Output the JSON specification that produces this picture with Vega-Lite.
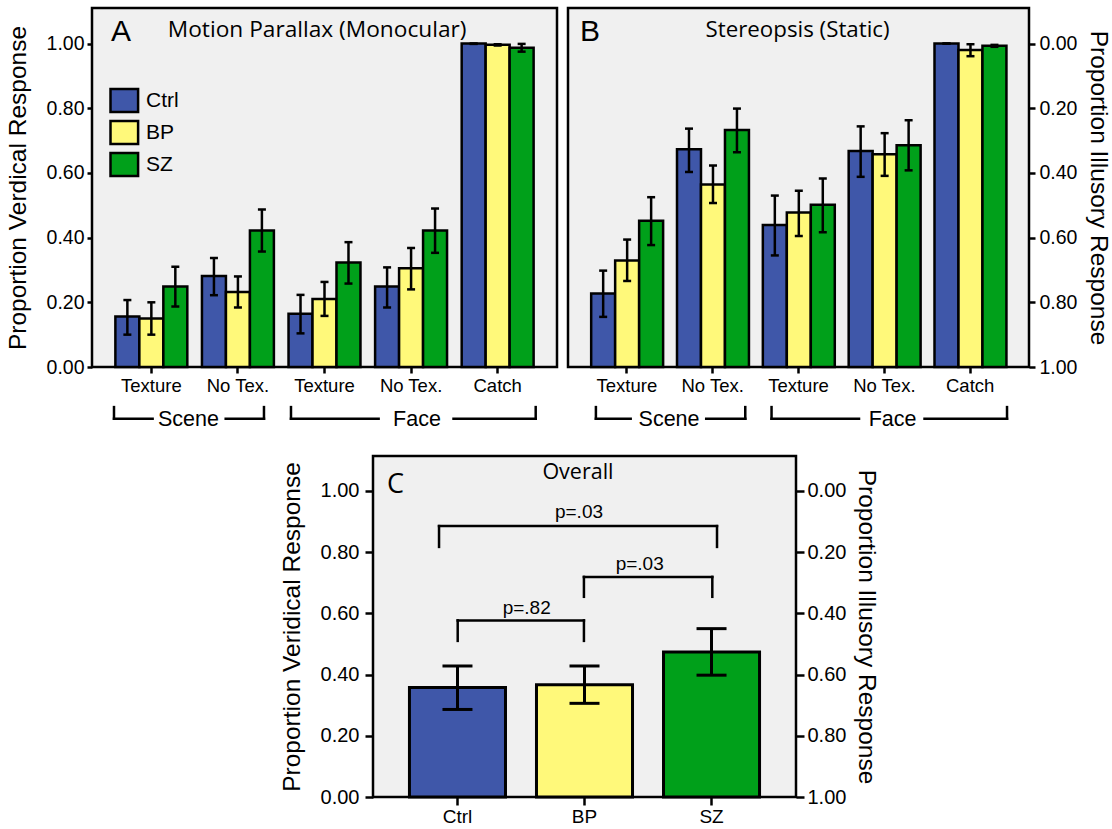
{
"$schema": "https://vega.github.io/schema/vega-lite/v6.json",
"padding": {"left": 3, "top": 6, "right": 5, "bottom": 4},
"background": "white",
"spacing": 22,
"config": {
  "font": "Liberation Sans",
  "view": {"stroke": "black", "strokeWidth": 2.5, "fill": "#f0f0f0"},
  "axis": {"labelFont": "Liberation Sans", "labelColor": "black", "tickColor": "black", "tickWidth": 2.5, "domain": false, "grid": false, "titleFont": "Liberation Sans", "titleColor": "black", "titleFontWeight": "normal"},
  "legend": {"labelFont": "Liberation Sans", "labelColor": "black"}
},
"datasets": {
  "A": [
    {"cond":"Scene|Texture","group":"Ctrl","v":0.156,"lo":0.100,"hi":0.207},
    {"cond":"Scene|Texture","group":"BP","v":0.150,"lo":0.100,"hi":0.200},
    {"cond":"Scene|Texture","group":"SZ","v":0.249,"lo":0.187,"hi":0.310},
    {"cond":"Scene|No Tex.","group":"Ctrl","v":0.281,"lo":0.222,"hi":0.337},
    {"cond":"Scene|No Tex.","group":"BP","v":0.232,"lo":0.184,"hi":0.280},
    {"cond":"Scene|No Tex.","group":"SZ","v":0.422,"lo":0.357,"hi":0.487},
    {"cond":"Face|Texture","group":"Ctrl","v":0.165,"lo":0.104,"hi":0.223},
    {"cond":"Face|Texture","group":"BP","v":0.210,"lo":0.158,"hi":0.263},
    {"cond":"Face|Texture","group":"SZ","v":0.323,"lo":0.258,"hi":0.386},
    {"cond":"Face|No Tex.","group":"Ctrl","v":0.249,"lo":0.184,"hi":0.308},
    {"cond":"Face|No Tex.","group":"BP","v":0.305,"lo":0.240,"hi":0.368},
    {"cond":"Face|No Tex.","group":"SZ","v":0.422,"lo":0.353,"hi":0.490},
    {"cond":"Catch|Catch","group":"Ctrl","v":1.000,"lo":0.999,"hi":1.000},
    {"cond":"Catch|Catch","group":"BP","v":0.996,"lo":0.994,"hi":0.998},
    {"cond":"Catch|Catch","group":"SZ","v":0.987,"lo":0.975,"hi":0.999}
  ],
  "B": [
    {"cond":"Scene|Texture","group":"Ctrl","v":0.227,"lo":0.155,"hi":0.298},
    {"cond":"Scene|Texture","group":"BP","v":0.329,"lo":0.266,"hi":0.394},
    {"cond":"Scene|Texture","group":"SZ","v":0.452,"lo":0.377,"hi":0.525},
    {"cond":"Scene|No Tex.","group":"Ctrl","v":0.673,"lo":0.603,"hi":0.737},
    {"cond":"Scene|No Tex.","group":"BP","v":0.564,"lo":0.507,"hi":0.623},
    {"cond":"Scene|No Tex.","group":"SZ","v":0.733,"lo":0.664,"hi":0.799},
    {"cond":"Face|Texture","group":"Ctrl","v":0.439,"lo":0.345,"hi":0.530},
    {"cond":"Face|Texture","group":"BP","v":0.478,"lo":0.405,"hi":0.545},
    {"cond":"Face|Texture","group":"SZ","v":0.502,"lo":0.417,"hi":0.583},
    {"cond":"Face|No Tex.","group":"Ctrl","v":0.668,"lo":0.588,"hi":0.744},
    {"cond":"Face|No Tex.","group":"BP","v":0.658,"lo":0.591,"hi":0.723},
    {"cond":"Face|No Tex.","group":"SZ","v":0.686,"lo":0.608,"hi":0.763},
    {"cond":"Catch|Catch","group":"Ctrl","v":1.000,"lo":1.000,"hi":1.000},
    {"cond":"Catch|Catch","group":"BP","v":0.980,"lo":0.961,"hi":0.998},
    {"cond":"Catch|Catch","group":"SZ","v":0.993,"lo":0.990,"hi":0.996}
  ],
  "C": [
    {"group":"Ctrl","v":0.358,"lo":0.286,"hi":0.428},
    {"group":"BP","v":0.367,"lo":0.306,"hi":0.428},
    {"group":"SZ","v":0.474,"lo":0.398,"hi":0.550}
  ],
  "segA": [
    {"x":0.254,"x2":0.254,"y":-0.124,"y2":-0.16},
    {"x":0.254,"x2":0.70,"y":-0.16,"y2":-0.16},
    {"x":1.544,"x2":1.986,"y":-0.16,"y2":-0.16},
    {"x":1.986,"x2":1.986,"y":-0.16,"y2":-0.124},
    {"x":2.298,"x2":2.298,"y":-0.124,"y2":-0.16},
    {"x":2.298,"x2":3.31,"y":-0.16,"y2":-0.16},
    {"x":4.175,"x2":5.124,"y":-0.16,"y2":-0.16},
    {"x":5.124,"x2":5.124,"y":-0.16,"y2":-0.124}
  ],
  "txtA": [
    {"k":"grp","x":1.114,"y":-0.182,"t":"Scene"},
    {"k":"grp","x":3.753,"y":-0.182,"t":"Face"},
    {"k":"letter","x":0.22,"y":1.008,"t":"A"},
    {"k":"title","x":2.6,"y":1.02,"t":"Motion Parallax (Monocular)"}
  ],
  "segB": [
    {"x":0.325,"x2":0.325,"y":-0.124,"y2":-0.16},
    {"x":0.325,"x2":0.73,"y":-0.16,"y2":-0.16},
    {"x":1.61,"x2":2.065,"y":-0.16,"y2":-0.16},
    {"x":2.065,"x2":2.065,"y":-0.16,"y2":-0.124},
    {"x":2.371,"x2":2.371,"y":-0.124,"y2":-0.16},
    {"x":2.371,"x2":3.39,"y":-0.16,"y2":-0.16},
    {"x":4.153,"x2":5.114,"y":-0.16,"y2":-0.16},
    {"x":5.114,"x2":5.114,"y":-0.16,"y2":-0.124}
  ],
  "txtB": [
    {"k":"grp","x":1.177,"y":-0.182,"t":"Scene"},
    {"k":"grp","x":3.781,"y":-0.182,"t":"Face"},
    {"k":"letter","x":0.14,"y":1.008,"t":"B"},
    {"k":"title","x":2.674,"y":1.02,"t":"Stereopsis (Static)"}
  ],
  "segC": [
    {"x":0.667,"x2":0.667,"y":0.51,"y2":0.577},
    {"x":0.667,"x2":1.661,"y":0.577,"y2":0.577},
    {"x":1.661,"x2":1.661,"y":0.577,"y2":0.51},
    {"x":1.661,"x2":1.661,"y":0.654,"y2":0.719},
    {"x":1.661,"x2":2.672,"y":0.719,"y2":0.719},
    {"x":2.672,"x2":2.672,"y":0.719,"y2":0.654},
    {"x":0.52,"x2":0.52,"y":0.817,"y2":0.885},
    {"x":0.52,"x2":2.709,"y":0.885,"y2":0.885},
    {"x":2.709,"x2":2.709,"y":0.885,"y2":0.817}
  ],
  "txtC": [
    {"k":"p","x":1.21,"y":0.598,"t":"p=.82"},
    {"k":"p","x":2.10,"y":0.741,"t":"p=.03"},
    {"k":"p","x":1.622,"y":0.912,"t":"p=.03"},
    {"k":"letter","x":0.11,"y":0.993,"t":"C"},
    {"k":"title","x":1.614,"y":1.039,"t":"Overall"}
  ]
},
"vconcat": [
 {"hconcat": [
  {"width": 465, "height": 359,
   "resolve": {"scale": {"x": "independent", "y": "independent"}},
   "layer": [
     {"data": {"name": "A"},
      "mark": {"type": "bar", "stroke": "black", "strokeWidth": 2.5},
      "encoding": {
        "x": {"field": "cond", "type": "nominal", "scale": {"domain": ["Scene|Texture","Scene|No Tex.","Face|Texture","Face|No Tex.","Catch|Catch"], "paddingInner": 0.169, "paddingOuter": 0.27},
              "axis": {"title": null, "labelExpr": "split(datum.label, '|')[1]", "labelAngle": 0, "tickSize": 6, "labelFontSize": 18.5, "labelPadding": 3}},
        "xOffset": {"field": "group", "type": "nominal", "scale": {"domain": ["Ctrl","BP","SZ"], "paddingInner": 0, "paddingOuter": 0}},
        "y": {"field": "v", "type": "quantitative", "scale": {"domain": [0, 1.11], "nice": false, "zero": false},
              "axis": {"orient": "left", "title": "Proportion Verdical Response", "values": [0,0.2,0.4,0.6,0.8,1], "format": ".2f", "tickSize": 5, "labelFontSize": 19.5, "labelPadding": 3, "titleFontSize": 24.5, "titlePadding": 16}},
        "color": {"field": "group", "type": "nominal", "scale": {"domain": ["Ctrl","BP","SZ"], "range": ["#3F57A9","#FFF97A","#00A01A"]},
                  "legend": {"title": null, "orient": "none", "legendX": 19.3, "legendY": 79.5, "padding": 0, "symbolType": "M-1.2,-1H1.2V1H-1.2Z", "symbolSize": 529, "symbolStrokeColor": "black", "symbolStrokeWidth": 2.5, "symbolOpacity": 1, "labelFontSize": 21, "labelOffset": 8.7, "rowPadding": -2}}
      }},
     {"data": {"name": "A"},
      "mark": {"type": "rule", "color": "black", "strokeWidth": 2.5},
      "encoding": {
        "x": {"field": "cond", "type": "nominal", "scale": {"domain": ["Scene|Texture","Scene|No Tex.","Face|Texture","Face|No Tex.","Catch|Catch"], "paddingInner": 0.169, "paddingOuter": 0.27}, "axis": null},
        "xOffset": {"field": "group", "type": "nominal", "scale": {"domain": ["Ctrl","BP","SZ"], "paddingInner": 0, "paddingOuter": 0}},
        "y": {"field": "lo", "type": "quantitative", "scale": {"domain": [0, 1.11], "nice": false, "zero": false}, "axis": null},
        "y2": {"field": "hi"}
      }},
     {"data": {"name": "A"},
      "mark": {"type": "tick", "color": "black", "size": 8, "thickness": 2.5, "opacity": 1},
      "encoding": {
        "x": {"field": "cond", "type": "nominal", "scale": {"domain": ["Scene|Texture","Scene|No Tex.","Face|Texture","Face|No Tex.","Catch|Catch"], "paddingInner": 0.169, "paddingOuter": 0.27}, "axis": null},
        "xOffset": {"field": "group", "type": "nominal", "scale": {"domain": ["Ctrl","BP","SZ"], "paddingInner": 0, "paddingOuter": 0}},
        "y": {"field": "lo", "type": "quantitative", "scale": {"domain": [0, 1.11], "nice": false, "zero": false}, "axis": null}
      }},
     {"data": {"name": "A"},
      "mark": {"type": "tick", "color": "black", "size": 8, "thickness": 2.5, "opacity": 1},
      "encoding": {
        "x": {"field": "cond", "type": "nominal", "scale": {"domain": ["Scene|Texture","Scene|No Tex.","Face|Texture","Face|No Tex.","Catch|Catch"], "paddingInner": 0.169, "paddingOuter": 0.27}, "axis": null},
        "xOffset": {"field": "group", "type": "nominal", "scale": {"domain": ["Ctrl","BP","SZ"], "paddingInner": 0, "paddingOuter": 0}},
        "y": {"field": "hi", "type": "quantitative", "scale": {"domain": [0, 1.11], "nice": false, "zero": false}, "axis": null}
      }},
     {"data": {"name": "segA"},
      "mark": {"type": "rule", "color": "black", "strokeWidth": 2.5, "strokeCap": "square"},
      "encoding": {
        "x": {"field": "x", "type": "quantitative", "scale": {"domain": [0, 5.37], "nice": false, "zero": false}, "axis": null},
        "x2": {"field": "x2"},
        "y": {"field": "y", "type": "quantitative", "scale": {"domain": [0, 1.11], "nice": false, "zero": false}, "axis": null},
        "y2": {"field": "y2"}
      }},
     {"data": {"name": "txtA"}, "transform": [{"filter": "datum.k == 'grp'"}],
      "mark": {"type": "text", "font": "Liberation Sans", "fontSize": 21.5, "align": "center", "baseline": "alphabetic", "color": "black"},
      "encoding": {
        "x": {"field": "x", "type": "quantitative", "scale": {"domain": [0, 5.37], "nice": false, "zero": false}, "axis": null},
        "y": {"field": "y", "type": "quantitative", "scale": {"domain": [0, 1.11], "nice": false, "zero": false}, "axis": null},
        "text": {"field": "t"}
      }},
     {"data": {"name": "txtA"}, "transform": [{"filter": "datum.k == 'letter'"}],
      "mark": {"type": "text", "font": "Liberation Sans", "fontSize": 30, "align": "left", "baseline": "alphabetic", "color": "black"},
      "encoding": {
        "x": {"field": "x", "type": "quantitative", "scale": {"domain": [0, 5.37], "nice": false, "zero": false}, "axis": null},
        "y": {"field": "y", "type": "quantitative", "scale": {"domain": [0, 1.11], "nice": false, "zero": false}, "axis": null},
        "text": {"field": "t"}
      }},
     {"data": {"name": "txtA"}, "transform": [{"filter": "datum.k == 'title'"}],
      "mark": {"type": "text", "font": "Open Sans", "fontSize": 22.7, "align": "center", "baseline": "alphabetic", "color": "black"},
      "encoding": {
        "x": {"field": "x", "type": "quantitative", "scale": {"domain": [0, 5.37], "nice": false, "zero": false}, "axis": null},
        "y": {"field": "y", "type": "quantitative", "scale": {"domain": [0, 1.11], "nice": false, "zero": false}, "axis": null},
        "text": {"field": "t"}
      }}
   ]},
  {"width": 461, "height": 359,
   "resolve": {"scale": {"x": "independent", "y": "independent"}},
   "layer": [
     {"data": {"name": "B"},
      "mark": {"type": "bar", "stroke": "black", "strokeWidth": 2.5},
      "encoding": {
        "x": {"field": "cond", "type": "nominal", "scale": {"domain": ["Scene|Texture","Scene|No Tex.","Face|Texture","Face|No Tex.","Catch|Catch"], "paddingInner": 0.169, "paddingOuter": 0.27},
              "axis": {"title": null, "labelExpr": "split(datum.label, '|')[1]", "labelAngle": 0, "tickSize": 6, "labelFontSize": 18.5, "labelPadding": 3}},
        "xOffset": {"field": "group", "type": "nominal", "scale": {"domain": ["Ctrl","BP","SZ"], "paddingInner": 0, "paddingOuter": 0}},
        "y": {"field": "v", "type": "quantitative", "scale": {"domain": [0, 1.11], "nice": false, "zero": false},
              "axis": {"orient": "right", "title": "Proportion Illusory Response", "values": [0,0.2,0.4,0.6,0.8,1], "labelExpr": "format(1 - datum.value, '.2f')", "tickSize": 6, "labelFontSize": 19.5, "labelPadding": 4, "titleFontSize": 24.5, "titlePadding": 9}},
        "color": {"field": "group", "type": "nominal", "scale": {"domain": ["Ctrl","BP","SZ"], "range": ["#3F57A9","#FFF97A","#00A01A"]}, "legend": null}
      }},
     {"data": {"name": "B"},
      "mark": {"type": "rule", "color": "black", "strokeWidth": 2.5},
      "encoding": {
        "x": {"field": "cond", "type": "nominal", "scale": {"domain": ["Scene|Texture","Scene|No Tex.","Face|Texture","Face|No Tex.","Catch|Catch"], "paddingInner": 0.169, "paddingOuter": 0.27}, "axis": null},
        "xOffset": {"field": "group", "type": "nominal", "scale": {"domain": ["Ctrl","BP","SZ"], "paddingInner": 0, "paddingOuter": 0}},
        "y": {"field": "lo", "type": "quantitative", "scale": {"domain": [0, 1.11], "nice": false, "zero": false}, "axis": null},
        "y2": {"field": "hi"}
      }},
     {"data": {"name": "B"},
      "mark": {"type": "tick", "color": "black", "size": 8, "thickness": 2.5, "opacity": 1},
      "encoding": {
        "x": {"field": "cond", "type": "nominal", "scale": {"domain": ["Scene|Texture","Scene|No Tex.","Face|Texture","Face|No Tex.","Catch|Catch"], "paddingInner": 0.169, "paddingOuter": 0.27}, "axis": null},
        "xOffset": {"field": "group", "type": "nominal", "scale": {"domain": ["Ctrl","BP","SZ"], "paddingInner": 0, "paddingOuter": 0}},
        "y": {"field": "lo", "type": "quantitative", "scale": {"domain": [0, 1.11], "nice": false, "zero": false}, "axis": null}
      }},
     {"data": {"name": "B"},
      "mark": {"type": "tick", "color": "black", "size": 8, "thickness": 2.5, "opacity": 1},
      "encoding": {
        "x": {"field": "cond", "type": "nominal", "scale": {"domain": ["Scene|Texture","Scene|No Tex.","Face|Texture","Face|No Tex.","Catch|Catch"], "paddingInner": 0.169, "paddingOuter": 0.27}, "axis": null},
        "xOffset": {"field": "group", "type": "nominal", "scale": {"domain": ["Ctrl","BP","SZ"], "paddingInner": 0, "paddingOuter": 0}},
        "y": {"field": "hi", "type": "quantitative", "scale": {"domain": [0, 1.11], "nice": false, "zero": false}, "axis": null}
      }},
     {"data": {"name": "segB"},
      "mark": {"type": "rule", "color": "black", "strokeWidth": 2.5, "strokeCap": "square"},
      "encoding": {
        "x": {"field": "x", "type": "quantitative", "scale": {"domain": [0, 5.37], "nice": false, "zero": false}, "axis": null},
        "x2": {"field": "x2"},
        "y": {"field": "y", "type": "quantitative", "scale": {"domain": [0, 1.11], "nice": false, "zero": false}, "axis": null},
        "y2": {"field": "y2"}
      }},
     {"data": {"name": "txtB"}, "transform": [{"filter": "datum.k == 'grp'"}],
      "mark": {"type": "text", "font": "Liberation Sans", "fontSize": 21.5, "align": "center", "baseline": "alphabetic", "color": "black"},
      "encoding": {
        "x": {"field": "x", "type": "quantitative", "scale": {"domain": [0, 5.37], "nice": false, "zero": false}, "axis": null},
        "y": {"field": "y", "type": "quantitative", "scale": {"domain": [0, 1.11], "nice": false, "zero": false}, "axis": null},
        "text": {"field": "t"}
      }},
     {"data": {"name": "txtB"}, "transform": [{"filter": "datum.k == 'letter'"}],
      "mark": {"type": "text", "font": "Liberation Sans", "fontSize": 30, "align": "left", "baseline": "alphabetic", "color": "black"},
      "encoding": {
        "x": {"field": "x", "type": "quantitative", "scale": {"domain": [0, 5.37], "nice": false, "zero": false}, "axis": null},
        "y": {"field": "y", "type": "quantitative", "scale": {"domain": [0, 1.11], "nice": false, "zero": false}, "axis": null},
        "text": {"field": "t"}
      }},
     {"data": {"name": "txtB"}, "transform": [{"filter": "datum.k == 'title'"}],
      "mark": {"type": "text", "font": "Open Sans", "fontSize": 22.3, "align": "center", "baseline": "alphabetic", "color": "black"},
      "encoding": {
        "x": {"field": "x", "type": "quantitative", "scale": {"domain": [0, 5.37], "nice": false, "zero": false}, "axis": null},
        "y": {"field": "y", "type": "quantitative", "scale": {"domain": [0, 1.11], "nice": false, "zero": false}, "axis": null},
        "text": {"field": "t"}
      }}
   ]}
 ], "spacing": 11, "bounds": "flush"},
 {"hconcat": [
  {"width": 270, "height": 341, "view": {"stroke": null, "fill": null},
   "data": {"values": []}, "mark": "point", "encoding": {}},
  {"width": 423, "height": 341,
   "resolve": {"scale": {"x": "independent", "y": "independent"}},
   "layer": [
     {"data": {"name": "C"},
      "mark": {"type": "bar", "stroke": "black", "strokeWidth": 3},
      "encoding": {
        "x": {"field": "group", "type": "nominal", "scale": {"domain": ["Ctrl","BP","SZ"], "paddingInner": 0.244, "paddingOuter": 0.287},
              "axis": {"title": null, "labelAngle": 0, "tickSize": 8, "labelFontSize": 19, "labelPadding": 2}},
        "y": {"field": "v", "type": "quantitative", "scale": {"domain": [0, 1.114], "nice": false, "zero": false},
              "axis": {"orient": "left", "title": "Proportion Veridical Response", "values": [0,0.2,0.4,0.6,0.8,1], "format": ".2f", "tickSize": 8, "labelFontSize": 20, "labelPadding": 6, "titleFontSize": 24.5, "titlePadding": 16}},
        "color": {"field": "group", "type": "nominal", "scale": {"domain": ["Ctrl","BP","SZ"], "range": ["#3F57A9","#FFF97A","#00A01A"]}, "legend": null}
      }},
     {"data": {"name": "C"},
      "mark": {"type": "rule", "color": "black", "strokeWidth": 3},
      "encoding": {
        "x": {"field": "group", "type": "nominal", "scale": {"domain": ["Ctrl","BP","SZ"], "paddingInner": 0.244, "paddingOuter": 0.287}, "axis": null},
        "y": {"field": "lo", "type": "quantitative", "scale": {"domain": [0, 1.114], "nice": false, "zero": false}, "axis": null},
        "y2": {"field": "hi"}
      }},
     {"data": {"name": "C"},
      "mark": {"type": "tick", "color": "black", "size": 30, "thickness": 3, "opacity": 1},
      "encoding": {
        "x": {"field": "group", "type": "nominal", "scale": {"domain": ["Ctrl","BP","SZ"], "paddingInner": 0.244, "paddingOuter": 0.287}, "axis": null},
        "y": {"field": "lo", "type": "quantitative", "scale": {"domain": [0, 1.114], "nice": false, "zero": false}, "axis": null}
      }},
     {"data": {"name": "C"},
      "mark": {"type": "tick", "color": "black", "size": 30, "thickness": 3, "opacity": 1},
      "encoding": {
        "x": {"field": "group", "type": "nominal", "scale": {"domain": ["Ctrl","BP","SZ"], "paddingInner": 0.244, "paddingOuter": 0.287}, "axis": null},
        "y": {"field": "hi", "type": "quantitative", "scale": {"domain": [0, 1.114], "nice": false, "zero": false}, "axis": null}
      }},
     {"data": {"name": "segC"},
      "mark": {"type": "rule", "color": "black", "strokeWidth": 2.5, "strokeCap": "square"},
      "encoding": {
        "x": {"field": "x", "type": "quantitative", "scale": {"domain": [0, 3.331], "nice": false, "zero": false}, "axis": null},
        "x2": {"field": "x2"},
        "y": {"field": "y", "type": "quantitative", "scale": {"domain": [0, 1.114], "nice": false, "zero": false},
              "axis": {"orient": "right", "title": "Proportion Illusory Response", "values": [0,0.2,0.4,0.6,0.8,1], "labelExpr": "format(1 - datum.value, '.2f')", "tickSize": 8, "labelFontSize": 20, "labelPadding": 3, "titleFontSize": 24.5, "titlePadding": 8}},
        "y2": {"field": "y2"}
      }},
     {"data": {"name": "txtC"}, "transform": [{"filter": "datum.k == 'p'"}],
      "mark": {"type": "text", "font": "Liberation Sans", "fontSize": 19, "align": "center", "baseline": "alphabetic", "color": "black"},
      "encoding": {
        "x": {"field": "x", "type": "quantitative", "scale": {"domain": [0, 3.331], "nice": false, "zero": false}, "axis": null},
        "y": {"field": "y", "type": "quantitative", "scale": {"domain": [0, 1.114], "nice": false, "zero": false}, "axis": null},
        "text": {"field": "t"}
      }},
     {"data": {"name": "txtC"}, "transform": [{"filter": "datum.k == 'letter'"}],
      "mark": {"type": "text", "font": "Open Sans", "fontSize": 27, "align": "left", "baseline": "alphabetic", "color": "black"},
      "encoding": {
        "x": {"field": "x", "type": "quantitative", "scale": {"domain": [0, 3.331], "nice": false, "zero": false}, "axis": null},
        "y": {"field": "y", "type": "quantitative", "scale": {"domain": [0, 1.114], "nice": false, "zero": false}, "axis": null},
        "text": {"field": "t"}
      }},
     {"data": {"name": "txtC"}, "transform": [{"filter": "datum.k == 'title'"}],
      "mark": {"type": "text", "font": "Open Sans", "fontSize": 21.5, "align": "center", "baseline": "alphabetic", "color": "black"},
      "encoding": {
        "x": {"field": "x", "type": "quantitative", "scale": {"domain": [0, 3.331], "nice": false, "zero": false}, "axis": null},
        "y": {"field": "y", "type": "quantitative", "scale": {"domain": [0, 1.114], "nice": false, "zero": false}, "axis": null},
        "text": {"field": "t"}
      }}
   ]}
 ], "spacing": 11, "bounds": "flush"}
]
}
